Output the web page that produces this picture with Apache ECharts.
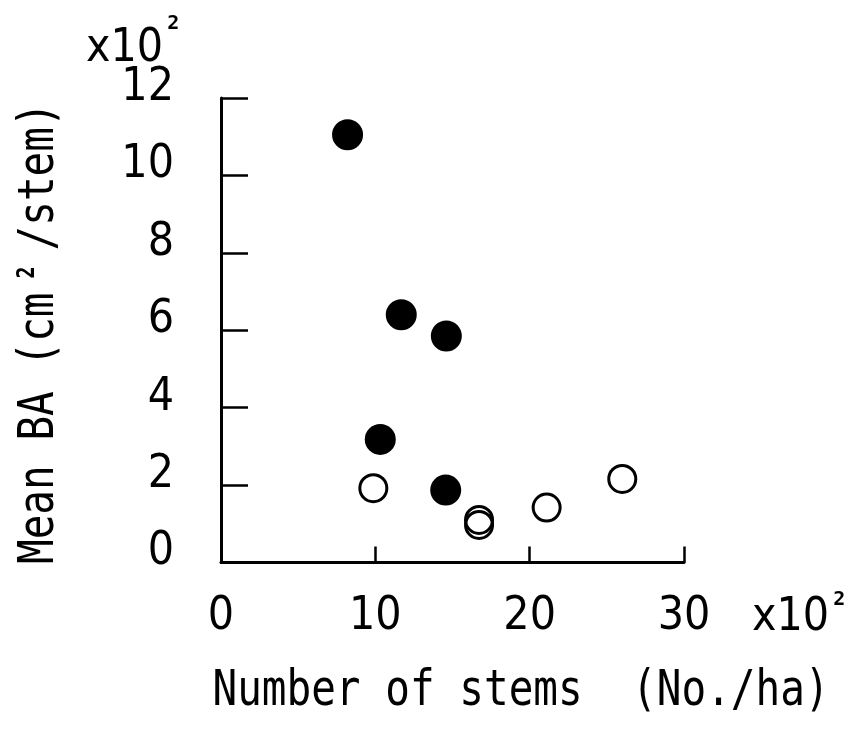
<!DOCTYPE html>
<html>
<head>
<meta charset="utf-8">
<script src="https://cdn.jsdelivr.net/npm/echarts@6/dist/echarts.min.js"></script>
<style>
  html, body { margin: 0; padding: 0; background: #fff; }
  #chart { width: 858px; height: 740px; }
</style>
</head>
<body>
<div id="chart"></div>
<script>
// Axis ticks (values are in hundreds)
const xTicks = [0, 10, 20, 30];
const yTicks = [0, 2, 4, 6, 8, 10, 12];

// Filled circles: number of stems (x10^2 /ha) and mean basal area (x10^2 cm2/stem)
const filledStems = [8.2, 11.68, 14.6, 10.32, 14.56];
const filledBA    = [11.05, 6.4, 5.85, 3.18, 1.87];

// Open circles
const openStems = [9.87, 16.72, 16.72, 21.1, 26.0];
const openBA    = [1.92, 1.10, 0.97, 1.42, 2.16];

const DIGIT_FONT = '"DejaVu Sans Condensed", "Liberation Sans", sans-serif';
const TITLE_FONT = '"DejaVu Sans Mono", "Liberation Mono", monospace';

const pairs = (xs, ys) => xs.map((x, i) => [x, ys[i]]);

const chart = echarts.init(document.getElementById('chart'), null, { renderer: 'canvas' });

const axisCommon = {
  type: 'value',
  axisLine: { show: true, lineStyle: { color: '#000', width: 3 } },
  splitLine: { show: false },
  axisLabel: { color: '#000', fontFamily: DIGIT_FONT, fontSize: 46 }
};

const supStyle = { fontFamily: TITLE_FONT, fontSize: 20, fontWeight: 'bold', verticalAlign: 'top', lineHeight: 20, padding: [0, 0, 0, 4] };

chart.setOption({
  backgroundColor: '#fff',
  animation: false,
  grid: { left: 221, top: 98, width: 463, height: 464.5 },
  xAxis: Object.assign({}, axisCommon, {
    min: xTicks[0],
    max: xTicks[xTicks.length - 1],
    interval: xTicks[1] - xTicks[0],
    axisTick: { show: true, inside: true, length: 16, lineStyle: { color: '#000', width: 2.5 } },
    axisLabel: Object.assign({}, axisCommon.axisLabel, { margin: 32 })
  }),
  yAxis: Object.assign({}, axisCommon, {
    min: yTicks[0],
    max: yTicks[yTicks.length - 1],
    interval: yTicks[1] - yTicks[0],
    axisTick: { show: true, inside: true, length: 27, lineStyle: { color: '#000', width: 2.5 } },
    axisLabel: Object.assign({}, axisCommon.axisLabel, { margin: 47, verticalAlign: 'bottom', lineHeight: 20 })
  }),
  series: [
    {
      type: 'scatter',
      data: pairs(filledStems, filledBA),
      symbol: 'circle',
      symbolSize: 31,
      itemStyle: { color: '#000', opacity: 1 }
    },
    {
      type: 'scatter',
      data: pairs(openStems, openBA),
      symbol: 'circle',
      symbolSize: 27,
      itemStyle: { color: 'rgba(255,255,255,0)', borderColor: '#000', borderWidth: 3, opacity: 1 }
    }
  ],
  graphic: [
    {
      type: 'text',
      x: 86, y: 49,
      style: {
        text: 'x10{s|2}',
        fontFamily: DIGIT_FONT, fontSize: 46, lineHeight: 70, fill: '#000',
        align: 'left', verticalAlign: 'middle',
        rich: { s: supStyle }
      }
    },
    {
      type: 'text',
      x: 752, y: 618,
      style: {
        text: 'x10{s|2}',
        fontFamily: DIGIT_FONT, fontSize: 46, lineHeight: 56, fill: '#000',
        align: 'left', verticalAlign: 'middle',
        rich: { s: supStyle }
      }
    },
    {
      type: 'text',
      x: 521, y: 692,
      scaleY: 1.2,
      style: {
        text: 'Number of stems  (No./ha)',
        fontFamily: TITLE_FONT, fontSize: 41, fill: '#000',
        align: 'center', verticalAlign: 'middle'
      }
    },
    {
      type: 'text',
      x: 40, y: 564,
      rotation: Math.PI / 2,
      scaleY: 1.2,
      style: {
        text: 'Mean BA (cm{s|2}/stem)',
        fontFamily: TITLE_FONT, fontSize: 41, fill: '#000',
        align: 'left', verticalAlign: 'middle',
        rich: { s: { fontFamily: TITLE_FONT, fontSize: 20, fontWeight: 'bold', verticalAlign: 'top', padding: [0, 16, 0, 14] } }
      }
    }
  ]
});
</script>
</body>
</html>
